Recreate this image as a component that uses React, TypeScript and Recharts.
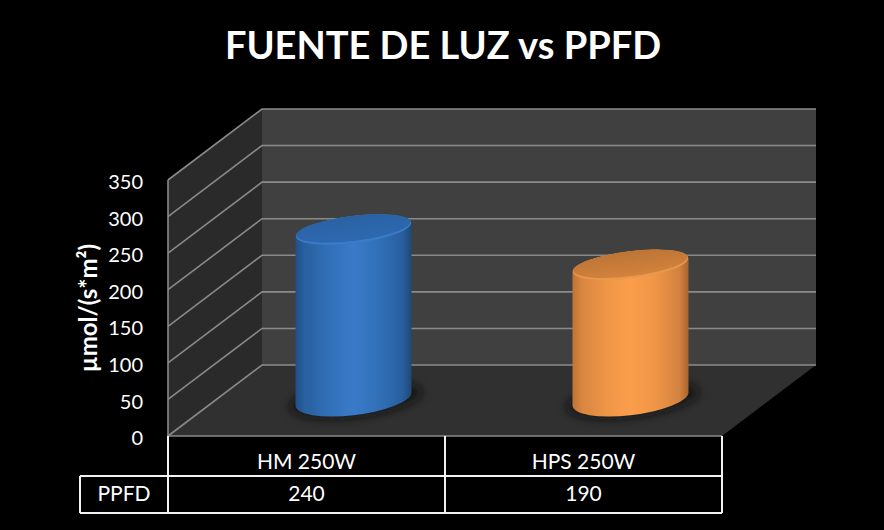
import { Bar, BarChart, Label, XAxis, YAxis, usePlotArea } from "recharts";

const categories = ["HM 250W", "HPS 250W"];
const ppfdValues = [240, 190];
const yTicks = [0, 50, 100, 150, 200, 250, 300, 350];
const yMax = 350;
const tableRowLabel = "PPFD";
const chartTitle = "FUENTE DE LUZ vs PPFD";
const yTitle = "µmol/(s*m²)";

const data = categories.map((name, i) => ({ name, ppfd: ppfdValues[i] }));

const FONT = "Lato, 'Open Sans', sans-serif";
const DEPTH_X = 94;
const DEPTH_Y = 71;
const GRID = "#8a8a8a";

function Defs() {
  return (
    <defs>
      <linearGradient id="bodyBlue" x1="0" x2="1" y1="0" y2="0">
        <stop offset="0" stopColor="#214f86" />
        <stop offset="0.08" stopColor="#2961a1" />
        <stop offset="0.3" stopColor="#3270b8" />
        <stop offset="0.5" stopColor="#3a7bc9" />
        <stop offset="0.72" stopColor="#3170b7" />
        <stop offset="0.92" stopColor="#295f9f" />
        <stop offset="1" stopColor="#1f4976" />
      </linearGradient>
      <linearGradient id="capBlue" x1="0" x2="0" y1="0" y2="1">
        <stop offset="0" stopColor="#2a62a4" />
        <stop offset="1" stopColor="#2d69b0" />
      </linearGradient>
      <linearGradient id="bodyOrange" x1="0" x2="1" y1="0" y2="0">
        <stop offset="0" stopColor="#bd7433" />
        <stop offset="0.08" stopColor="#d98641" />
        <stop offset="0.3" stopColor="#ef9647" />
        <stop offset="0.5" stopColor="#fb9e4b" />
        <stop offset="0.72" stopColor="#ee9546" />
        <stop offset="0.92" stopColor="#d38240" />
        <stop offset="1" stopColor="#a6652c" />
      </linearGradient>
      <linearGradient id="capOrange" x1="0" x2="0" y1="0" y2="1">
        <stop offset="0" stopColor="#bd7435" />
        <stop offset="1" stopColor="#d2833d" />
      </linearGradient>
      <filter id="floorShadow" x="-20%" y="-50%" width="140%" height="200%">
        <feGaussianBlur stdDeviation="4" />
      </filter>
    </defs>
  );
}

// back wall, side wall and floor, hung off the plot area
function Walls() {
  const plot = usePlotArea();
  if (!plot) return null;
  const { x, y, width, height } = plot;
  const bottom = y + height;
  const right = x + width;
  return (
    <g>
      <polygon
        points={`${x + DEPTH_X},${y - DEPTH_Y} ${right + DEPTH_X},${y - DEPTH_Y} ${right + DEPTH_X},${bottom - DEPTH_Y} ${x + DEPTH_X},${bottom - DEPTH_Y}`}
        fill="#404040"
      />
      <polygon
        points={`${x},${y} ${x + DEPTH_X},${y - DEPTH_Y} ${x + DEPTH_X},${bottom - DEPTH_Y} ${x},${bottom}`}
        fill="#2a2a2a"
      />
      <polygon
        points={`${x},${bottom} ${x + DEPTH_X},${bottom - DEPTH_Y} ${right + DEPTH_X},${bottom - DEPTH_Y} ${right},${bottom}`}
        fill="#303030"
      />
      {yTicks.map((t) => {
        const ty = bottom - (t / yMax) * height;
        return (
          <polyline
            key={t}
            points={`${x},${ty} ${x + DEPTH_X},${ty - DEPTH_Y} ${right + DEPTH_X},${ty - DEPTH_Y}`}
            stroke={GRID}
            strokeWidth={1.6}
            fill="none"
          />
        );
      })}
      <line x1={x} x2={x} y1={y} y2={bottom} stroke={GRID} strokeWidth={1.6} />
      <line x1={x} x2={right} y1={bottom} y2={bottom} stroke={GRID} strokeWidth={1.6} />
    </g>
  );
}

// data table under the plot, same columns as the category band
function DataTable() {
  const plot = usePlotArea();
  if (!plot) return null;
  const { x, y, width, height } = plot;
  const bottom = y + height;
  const right = x + width;
  const col = width / categories.length;
  const rowTop = bottom + 40;
  const rowBottom = bottom + 77;
  const labelLeft = x - 88;
  return (
    <g>
      <g stroke="#f2f2f2" strokeWidth={2} fill="none">
        <line x1={labelLeft} x2={right} y1={rowTop} y2={rowTop} />
        <line x1={labelLeft} x2={right} y1={rowBottom} y2={rowBottom} />
        <line x1={labelLeft} x2={labelLeft} y1={rowTop} y2={rowBottom} />
        {categories.map((_, i) => (
          <line key={i} x1={x + col * i} x2={x + col * i} y1={bottom} y2={rowBottom} />
        ))}
        <line x1={right} x2={right} y1={bottom} y2={rowBottom} />
      </g>
      <text x={x - 44} y={rowTop + 25} textAnchor="middle" fill="#fff" fontSize={21} fontFamily={FONT}>
        {tableRowLabel}
      </text>
      {ppfdValues.map((v, i) => (
        <text key={i} x={x + col * (i + 0.5)} y={rowTop + 25} textAnchor="middle" fill="#fff" fontSize={21} fontFamily={FONT}>
          {v}
        </text>
      ))}
    </g>
  );
}

function Title() {
  return (
    <text x={443} y={59} textAnchor="middle" fill="#fff" fontSize={38} fontWeight={700} fontFamily={FONT}>
      {chartTitle}
    </text>
  );
}

const BAR_SHIFT_X = 46.5;
const BAR_SHIFT_Y = 37;
const BAR_SQUASH = 0.965;
const TILT = -7;

function Cylinder(props: any) {
  const { x, y, width, height, index } = props;
  const cx = x + width / 2 + BAR_SHIFT_X;
  const hw = width / 2;
  const baseY = y + height - BAR_SHIFT_Y;
  const topY = baseY - height * BAR_SQUASH;
  const blue = index === 0;
  const body = blue ? "url(#bodyBlue)" : "url(#bodyOrange)";
  const cap = blue ? "url(#capBlue)" : "url(#capOrange)";
  const rim = blue ? "#3a7cc9" : "#ea984e";
  const skew = 6.6;
  const path = [
    `M${cx - hw},${topY + skew}`,
    `L${cx - hw},${baseY + skew}`,
    `A${hw} 16 ${TILT} 1 0 ${cx + hw},${baseY - skew}`,
    `L${cx + hw},${topY - skew}`,
    `A${hw} 13.5 ${TILT} 1 0 ${cx - hw},${topY + skew}`,
    "Z",
  ].join(" ");
  return (
    <g>
      <ellipse
        cx={cx + 2}
        cy={baseY + 1}
        rx={hw + 9}
        ry={18}
        fill="#111"
        opacity={0.7}
        filter="url(#floorShadow)"
        transform={`rotate(${TILT} ${cx} ${baseY})`}
      />
      <path d={path} fill={body} />
      <ellipse cx={cx} cy={topY} rx={hw} ry={13.5} fill={rim} transform={`rotate(${TILT} ${cx} ${topY})`} />
      <ellipse cx={cx} cy={topY - 1.2} rx={hw - 0.5} ry={12.5} fill={cap} transform={`rotate(${TILT} ${cx} ${topY})`} />
    </g>
  );
}

export default function App() {
  return (
    <div style={{ position: "absolute", left: 0, top: 0, width: 884, height: 530, background: "#000" }}>
      <BarChart
        width={884}
        height={530}
        data={data}
        margin={{ top: 180, right: 162, bottom: 44, left: 70 }}
        style={{ background: "#000" }}
      >
        <Defs />
        <Walls />
        <XAxis
          dataKey="name"
          height={50}
          axisLine={false}
          tickLine={false}
          interval={0}
          tickMargin={12}
          tick={{ fill: "#fff", fontSize: 21, fontFamily: FONT }}
        />
        <YAxis
          type="number"
          domain={[0, yMax]}
          ticks={yTicks}
          width={98}
          axisLine={false}
          tickLine={false}
          tickMargin={19}
          tick={{ fill: "#fff", fontSize: 20, fontFamily: FONT, dy: 2 }}
        >
          <Label
            value={yTitle}
            angle={-90}
            position="insideLeft"
            offset={18}
            style={{ textAnchor: "middle", fill: "#fff", fontSize: 24, fontWeight: 700, fontFamily: FONT }}
          />
        </YAxis>
        <Bar dataKey="ppfd" barSize={116} isAnimationActive={false} shape={Cylinder} />
        <DataTable />
        <Title />
      </BarChart>
    </div>
  );
}
